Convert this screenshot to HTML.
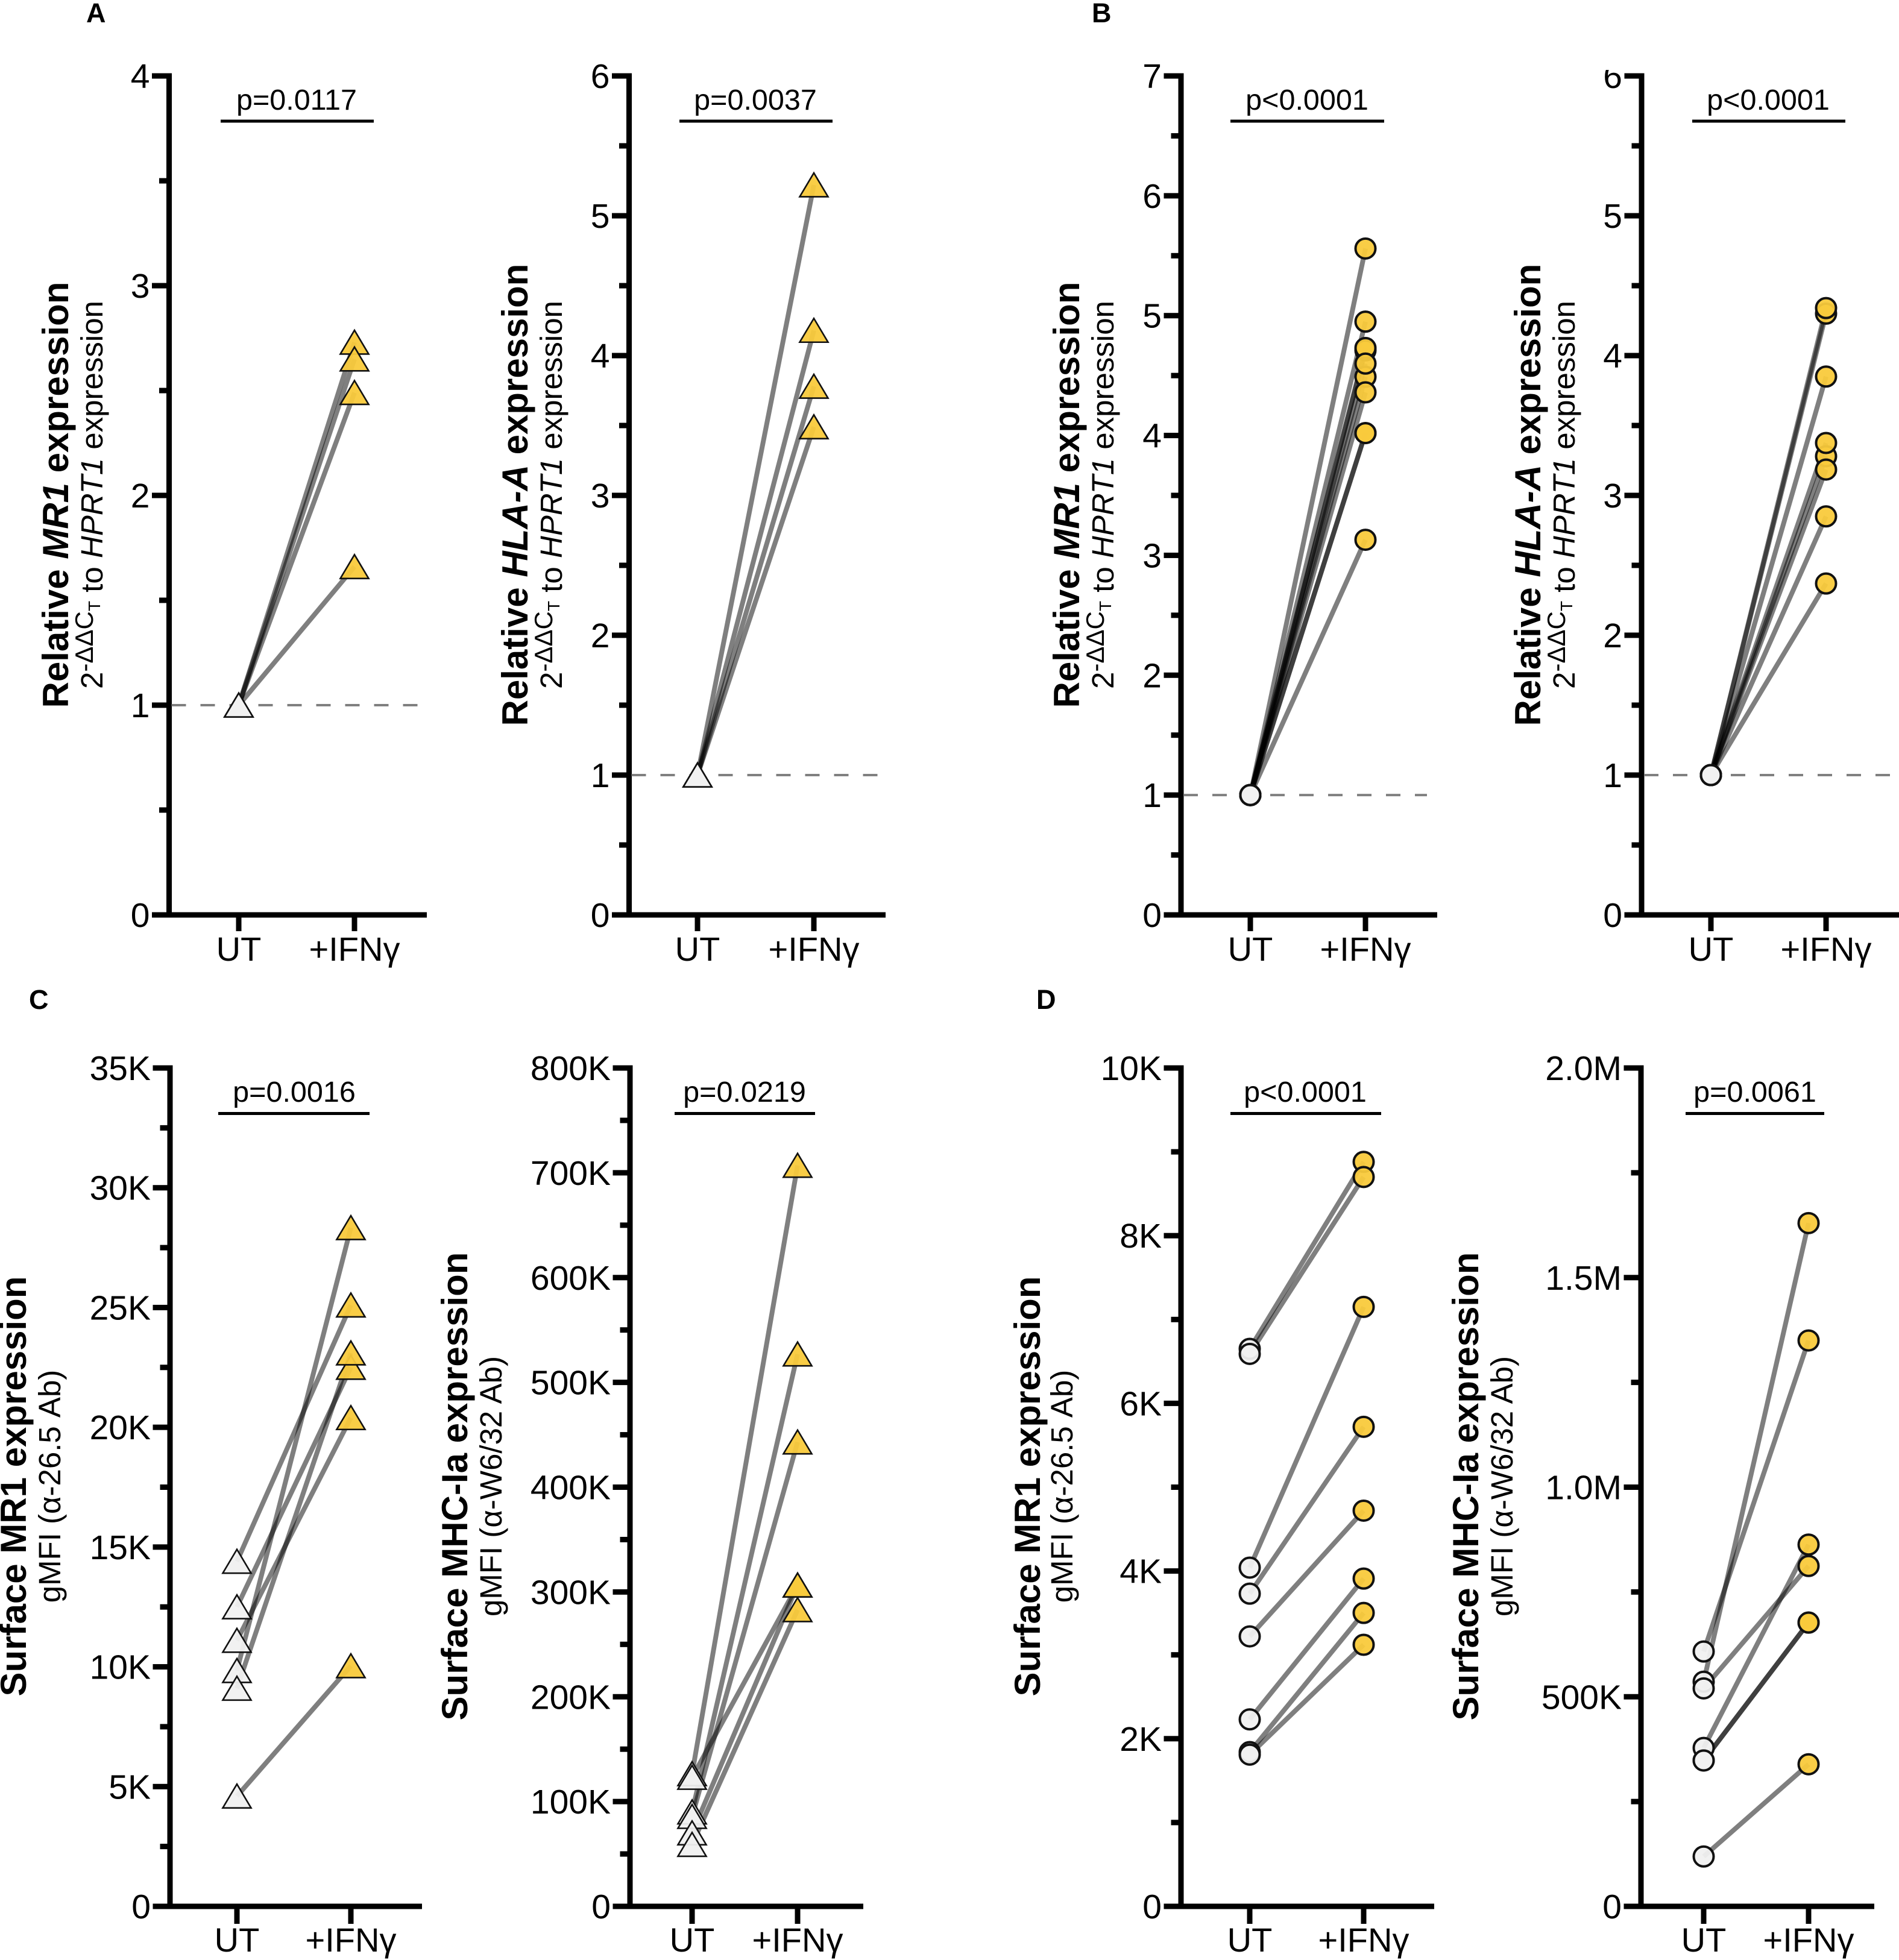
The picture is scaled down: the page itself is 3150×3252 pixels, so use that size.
<!DOCTYPE html>
<html lang="en">
<head>
<meta charset="utf-8">
<title>MR1 and HLA-A expression after IFNγ treatment</title>
<style>
html,body{margin:0;padding:0;background:#fff;width:3150px;height:3252px;overflow:hidden}
svg{display:block;font-family:"Liberation Sans",Arial,sans-serif}
.title{font-size:60px;font-weight:bold;text-anchor:middle}
.sub{font-size:51px;text-anchor:middle}
.sup{font-size:42px}
.small{font-size:28px}
.pv{font-size:48.5px;text-anchor:middle}
.letter{font-size:45px;font-weight:bold}
.tick{font-size:57px;text-anchor:end}
.cat{font-size:56px;text-anchor:middle}
</style>
</head>
<body>
<svg id="fig" xmlns="http://www.w3.org/2000/svg" width="3150" height="3252" viewBox="0 0 3150 3252">
<rect x="0" y="0" width="3150" height="3252" fill="#fff"/>
<text class="letter" x="143" y="37">A</text>
<text class="letter" x="1811" y="37">B</text>
<text class="letter" x="48" y="1674">C</text>
<text class="letter" x="1719" y="1674">D</text>

<g id="plots"></g>

<text class="title" transform="translate(113 821) rotate(-90)">Relative <tspan font-style="italic">MR1</tspan> expression</text>
<text class="sub" transform="translate(170 821) rotate(-90)">2<tspan class="sup" dy="-16">-ΔΔC</tspan><tspan class="small" dy="12">T</tspan><tspan dy="4"> to </tspan><tspan font-style="italic">HPRT1</tspan> expression</text>
<text class="title" transform="translate(875 821) rotate(-90)">Relative <tspan font-style="italic">HLA-A</tspan> expression</text>
<text class="sub" transform="translate(932 821) rotate(-90)">2<tspan class="sup" dy="-16">-ΔΔC</tspan><tspan class="small" dy="12">T</tspan><tspan dy="4"> to </tspan><tspan font-style="italic">HPRT1</tspan> expression</text>
<text class="title" transform="translate(1790 821) rotate(-90)">Relative <tspan font-style="italic">MR1</tspan> expression</text>
<text class="sub" transform="translate(1847 821) rotate(-90)">2<tspan class="sup" dy="-16">-ΔΔC</tspan><tspan class="small" dy="12">T</tspan><tspan dy="4"> to </tspan><tspan font-style="italic">HPRT1</tspan> expression</text>
<text class="title" transform="translate(2555 821) rotate(-90)">Relative <tspan font-style="italic">HLA-A</tspan> expression</text>
<text class="sub" transform="translate(2612 821) rotate(-90)">2<tspan class="sup" dy="-16">-ΔΔC</tspan><tspan class="small" dy="12">T</tspan><tspan dy="4"> to </tspan><tspan font-style="italic">HPRT1</tspan> expression</text>

<text class="title" transform="translate(43 2466) rotate(-90)">Surface MR1 expression</text>
<text class="sub" transform="translate(100 2466) rotate(-90)">gMFI (α-26.5 Ab)</text>
<text class="title" transform="translate(775 2466) rotate(-90)">Surface MHC-Ia expression</text>
<text class="sub" transform="translate(832 2466) rotate(-90)">gMFI (α-W6/32 Ab)</text>
<text class="title" transform="translate(1725 2466) rotate(-90)">Surface MR1 expression</text>
<text class="sub" transform="translate(1779 2466) rotate(-90)">gMFI (α-26.5 Ab)</text>
<text class="title" transform="translate(2452 2466) rotate(-90)">Surface MHC-Ia expression</text>
<text class="sub" transform="translate(2509 2466) rotate(-90)">gMFI (α-W6/32 Ab)</text>

<text class="pv" x="492" y="182">p=0.0117</text>
<rect x="366" y="198.5" width="254" height="5"/>
<text class="pv" x="1253" y="182">p=0.0037</text>
<rect x="1127" y="198.5" width="254" height="5"/>
<text class="pv" x="2168" y="182">p&lt;0.0001</text>
<rect x="2041" y="198.5" width="255" height="5"/>
<text class="pv" x="2933" y="182">p&lt;0.0001</text>
<rect x="2807" y="198.5" width="254" height="5"/>
<text class="pv" x="488" y="1828">p=0.0016</text>
<rect x="362" y="1845" width="251" height="5"/>
<text class="pv" x="1235" y="1828">p=0.0219</text>
<rect x="1119" y="1845" width="233" height="5"/>
<text class="pv" x="2165" y="1828">p&lt;0.0001</text>
<rect x="2041" y="1845" width="250" height="5"/>
<text class="pv" x="2911" y="1828">p=0.0061</text>
<rect x="2796" y="1845" width="230" height="5"/>
</svg>

<script>
// ---------- categories ----------
const categories = ['UT', '+IFNγ'];

// ---------- panel A ----------
const a1Ticks = [0, 1, 2, 3, 4];
const a1TickLabels = ['0', '1', '2', '3', '4'];
const a1Untreated = [1, 1, 1, 1];
const a1Treated = [2.73, 2.65, 2.49, 1.66];

const a2Ticks = [0, 1, 2, 3, 4, 5, 6];
const a2TickLabels = ['0', '1', '2', '3', '4', '5', '6'];
const a2Untreated = [1, 1, 1, 1];
const a2Treated = [5.22, 4.18, 3.78, 3.49];

// ---------- panel B ----------
const b1Ticks = [0, 1, 2, 3, 4, 5, 6, 7];
const b1TickLabels = ['0', '1', '2', '3', '4', '5', '6', '7'];
const b1Untreated = [1, 1, 1, 1, 1, 1, 1, 1, 1, 1];
const b1Treated = [5.56, 4.95, 4.71, 4.73, 4.49, 4.6, 4.36, 4.02, 4.02, 3.13];

const b2Ticks = [0, 1, 2, 3, 4, 5, 6];
const b2TickLabels = ['0', '1', '2', '3', '4', '5', '6'];
const b2Untreated = [1, 1, 1, 1, 1, 1, 1, 1];
const b2Treated = [4.3, 4.34, 3.85, 3.28, 3.375, 3.185, 2.85, 2.37];

// ---------- panel C ----------
const c1Ticks = [0, 5, 10, 15, 20, 25, 30, 35];
const c1TickLabels = ['0', '5K', '10K', '15K', '20K', '25K', '30K', '35K'];
const c1Untreated = [14.4, 12.5, 11.1, 9.84, 9.1, 4.6];
const c1Treated = [25.1, 22.5, 20.4, 28.33, 23.1, 10.04];

const c2Ticks = [0, 100, 200, 300, 400, 500, 600, 700, 800];
const c2TickLabels = ['0', '100K', '200K', '300K', '400K', '500K', '600K', '700K', '800K'];
const c2Untreated = [126.5, 123, 90, 85.7, 70, 59];
const c2Treated = [707, 306.5, 527, 443, 306.5, 283];

// ---------- panel D ----------
const d1Ticks = [0, 2, 4, 6, 8, 10];
const d1TickLabels = ['0', '2K', '4K', '6K', '8K', '10K'];
const d1Untreated = [6.65, 6.59, 4.04, 3.73, 3.22, 2.23, 1.84, 1.81];
const d1Treated = [8.88, 8.7, 7.15, 5.72, 4.72, 3.91, 3.5, 3.12];

const d2Ticks = [0, 500, 1000, 1500, 2000];
const d2TickLabels = ['0', '500K', '1.0M', '1.5M', '2.0M'];
const d2Untreated = [536, 608, 520, 378, 348, 348, 119];
const d2Treated = [1630, 1350, 812, 863, 677, 677, 339];

// ---------- drawing ----------
const NS = 'http://www.w3.org/2000/svg';
const root = document.getElementById('plots');

function mk(parent, tag, name) {
  const el = document.createElementNS(NS, tag);
  
  
  parent.appendChild(el);
  return el;
}

function rect(parent, name, x, y, w, h) {
  const r = mk(parent, 'rect', name);
  r.setAttribute('x', x);
  r.setAttribute('y', y);
  r.setAttribute('width', w);
  r.setAttribute('height', h);
  return r;
}

function drawPanel(cfg) {
  const g = mk(root, 'g', 'plot-' + cfg.id);
  const maxV = cfg.ticks[cfg.ticks.length - 1];
  const yScale = v => cfg.bottom - (v / maxV) * (cfg.bottom - cfg.top);
  const xScale = i => (i === 0 ? cfg.xUT : cfg.xIFN);
  const half = 4.5;

  // axes
  rect(g, 'y-axis-line-' + cfg.id, cfg.ax - half, cfg.top - half, 9, cfg.bottom - cfg.top + 9);
  rect(g, 'x-axis-line-' + cfg.id, cfg.ax - half, cfg.bottom - half, cfg.right - cfg.ax + half, 9);

  // y ticks
  cfg.ticks.forEach((t, i) => {
    const y = yScale(t);
    rect(g, 'y-tick-' + cfg.id + '-' + i, cfg.ax - 28.5, y - 4.5, 28.5, 9);
    const lab = mk(g, 'text', 'y-tick-label-' + cfg.id + '-' + i);
    lab.setAttribute('class', 'tick');
    lab.setAttribute('x', cfg.ax - 32);
    lab.setAttribute('y', y + 20);
    lab.textContent = cfg.labels[i];
    if (i < cfg.ticks.length - 1) {
      const ym = yScale((t + cfg.ticks[i + 1]) / 2);
      rect(g, 'y-minor-tick-' + cfg.id + '-' + i, cfg.ax - 16.5, ym - 4.5, 16.5, 9);
    }
  });

  // x ticks
  categories.forEach((c, i) => {
    const x = xScale(i);
    rect(g, 'x-tick-' + cfg.id + '-' + i, x - 4.5, cfg.bottom, 9, cfg.tickEnd - cfg.bottom);
    const lab = mk(g, 'text', 'x-tick-label-' + cfg.id + '-' + i);
    lab.setAttribute('class', 'cat');
    lab.setAttribute('x', x);
    lab.setAttribute('y', cfg.labelY);
    lab.textContent = c;
  });

  // baseline
  if (cfg.dashEnd) {
    const d = mk(g, 'line', 'reference-line-' + cfg.id);
    d.setAttribute('x1', cfg.ax + 4);
    d.setAttribute('x2', cfg.dashEnd);
    d.setAttribute('y1', yScale(1));
    d.setAttribute('y2', yScale(1));
    d.setAttribute('stroke', '#808080');
    d.setAttribute('stroke-width', '4');
    d.setAttribute('stroke-dasharray', '24 24');
  }

  // paired lines
  cfg.ut.forEach((v, i) => {
    const l = mk(g, 'line', 'pair-line-' + cfg.id + '-' + i);
    l.setAttribute('x1', xScale(0));
    l.setAttribute('y1', yScale(v));
    l.setAttribute('x2', xScale(1));
    l.setAttribute('y2', yScale(cfg.ifn[i]));
    l.setAttribute('stroke', '#000');
    l.setAttribute('stroke-opacity', '0.5');
    l.setAttribute('stroke-width', '8');
  });

  // markers
  function marker(x, y, fill, name) {
    let m;
    if (cfg.shape === 'tri') {
      m = mk(g, 'path', name);
      m.setAttribute('d', 'M' + x + ' ' + (y - 20) + 'L' + (x + 23.5) + ' ' + (y + 19.5) + 'L' + (x - 23.5) + ' ' + (y + 19.5) + 'Z');
      m.setAttribute('stroke-linejoin', 'miter');
      m.setAttribute('stroke-width', '2.6');
    } else {
      m = mk(g, 'circle', name);
      m.setAttribute('cx', x);
      m.setAttribute('cy', y);
      m.setAttribute('r', '16.5');
      m.setAttribute('stroke-width', '4');
    }
    m.setAttribute('fill', fill);
    m.setAttribute('fill-opacity', '0.95');
    m.setAttribute('stroke', '#111');
  }
  cfg.ut.forEach((v, i) => marker(xScale(0), yScale(v), '#f0f0f0', 'marker-ut-' + cfg.id + '-' + i));
  cfg.ifn.forEach((v, i) => marker(xScale(1), yScale(v), '#f9ca3c', 'marker-ifn-' + cfg.id + '-' + i));
}

const R1 = { top: 126, bottom: 1518, tickEnd: 1545, labelY: 1594 };
const R2 = { top: 1772, bottom: 3163, tickEnd: 3192, labelY: 3238 };

drawPanel({ ...R1, id: 'a1', shape: 'tri', ax: 280.5, right: 708, xUT: 396, xIFN: 588, dashEnd: 695, ticks: a1Ticks, labels: a1TickLabels, ut: a1Untreated, ifn: a1Treated });
drawPanel({ ...R1, id: 'a2', shape: 'tri', ax: 1043.5, right: 1469, xUT: 1157, xIFN: 1350, dashEnd: 1461, ticks: a2Ticks, labels: a2TickLabels, ut: a2Untreated, ifn: a2Treated });
drawPanel({ ...R1, id: 'b1', shape: 'circle', ax: 1959, right: 2384, xUT: 2074, xIFN: 2265, dashEnd: 2367, ticks: b1Ticks, labels: b1TickLabels, ut: b1Untreated, ifn: b1Treated });
drawPanel({ ...R1, id: 'b2', shape: 'circle', ax: 2723, right: 3150, xUT: 2838, xIFN: 3029, dashEnd: 3140, ticks: b2Ticks, labels: b2TickLabels, ut: b2Untreated, ifn: b2Treated });
drawPanel({ ...R2, id: 'c1', shape: 'tri', ax: 282, right: 700, xUT: 393, xIFN: 582, ticks: c1Ticks, labels: c1TickLabels, ut: c1Untreated, ifn: c1Treated });
drawPanel({ ...R2, id: 'c2', shape: 'tri', ax: 1045, right: 1432, xUT: 1148, xIFN: 1323, ticks: c2Ticks, labels: c2TickLabels, ut: c2Untreated, ifn: c2Treated });
drawPanel({ ...R2, id: 'd1', shape: 'circle', ax: 1959, right: 2379, xUT: 2073, xIFN: 2262, ticks: d1Ticks, labels: d1TickLabels, ut: d1Untreated, ifn: d1Treated });
drawPanel({ ...R2, id: 'd2', shape: 'circle', ax: 2722, right: 3109, xUT: 2826, xIFN: 3000, ticks: d2Ticks, labels: d2TickLabels, ut: d2Untreated, ifn: d2Treated });

// the top "6" label of the last qPCR plot is cropped in the source figure
const mask = rect(root, 'cropped-label-mask', 2640, 90, 52, 26);
mask.setAttribute('fill', '#fff');
</script>
</body>
</html>
